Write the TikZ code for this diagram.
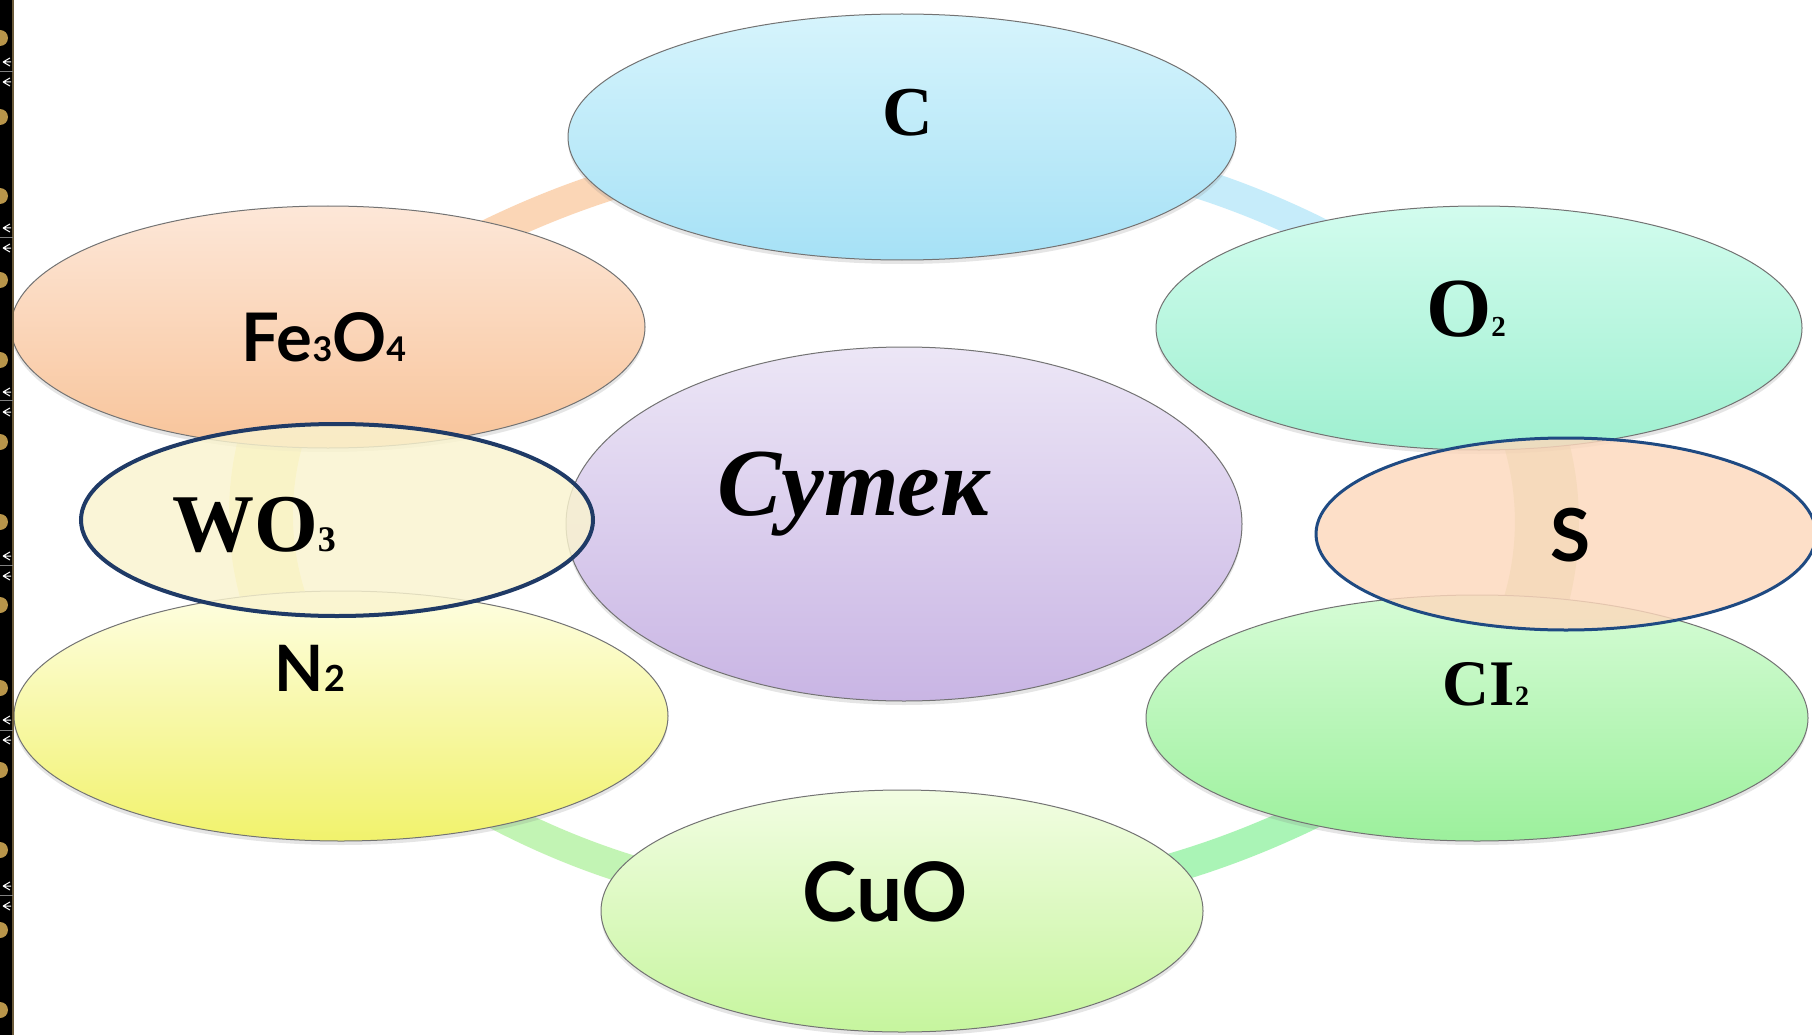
\documentclass[tikz,border=0pt]{standalone}
\usepackage{fontspec}
\setmainfont{Liberation Serif}
\newfontfamily\labsans{Lato}
\usetikzlibrary{shapes.geometric,shadows}
\pgfdeclarelayer{bg}
\pgfsetlayers{bg,main}
\newcommand{\fsz}[1]{\fontsize{#1}{#1}\selectfont}

\definecolor{coin}{HTML}{B8954A}
\definecolor{cTop}{HTML}{D6F4FC}   \definecolor{cBot}{HTML}{A6E1F6}
\definecolor{oTop}{HTML}{D2FCEE}   \definecolor{oBot}{HTML}{9FF0D0}
\definecolor{feTop}{HTML}{FDE7D8}  \definecolor{feBot}{HTML}{F8C49A}
\definecolor{nTop}{HTML}{FEFEE2}   \definecolor{nBot}{HTML}{F1F26C}
\definecolor{clTop}{HTML}{D6FCD6}  \definecolor{clBot}{HTML}{9CF09C}
\definecolor{cuTop}{HTML}{F2FDE2}  \definecolor{cuBot}{HTML}{C6F59E}
\definecolor{mTop}{HTML}{ECE6F6}   \definecolor{mBot}{HTML}{C9B5E4}
\definecolor{navyA}{HTML}{1F3A66}  \definecolor{navyB}{HTML}{1F4A82}
\definecolor{wFill}{HTML}{FAF4CF}  \definecolor{sFill}{HTML}{FDD8BC}
\definecolor{rFeC}{HTML}{FBD6B6}   \definecolor{rCO}{HTML}{C6ECFA}
\definecolor{rOCl}{HTML}{D8E6BC}   \definecolor{rClCu}{HTML}{AAF4B6}
\definecolor{rCuN}{HTML}{C2F4B4}   \definecolor{rNFe}{HTML}{F8F0A8}
\definecolor{edge}{HTML}{6B5A3A}

\begin{document}
\begin{tikzpicture}[x=1pt, y=-1pt,
    every node/.style={ellipse, draw=black!55, line width=1pt, inner sep=0pt},
    blob/.style 2 args={top color=#1, bottom color=#2,
      drop shadow={shadow xshift=0pt, shadow yshift=-4pt, opacity=0.2}},
    pick/.style={draw=#1, line width=4pt, fill opacity=0.82},
    lab/.style={draw=none, rectangle, inner sep=0pt, text=black},
    ring/.style={draw=#1, line width=30pt},
    wring/.style={draw=#1, line width=64pt}]
  \useasboundingbox (0,0) rectangle (1812,1035);

  % cycle
  \node[blob={cTop}{cBot}, minimum width=668, minimum height=246,
    label={[lab, xshift=6pt, yshift=24pt]center:{\bfseries\fsz{70}C}}] (c) at (902,137) {};
  \node[blob={oTop}{oBot}, minimum width=646, minimum height=244,
    label={[lab, xshift=-13pt, yshift=19pt]center:{\bfseries\fsz{84}O\fsz{29}2}}] (o2) at (1479,328) {};
  \node[blob={feTop}{feBot}, minimum width=634, minimum height=242,
    label={[lab, xshift=-4pt, yshift=-10pt]center:{\labsans\bfseries\fsz{67}Fe\fsz{34}3\fsz{67}O\fsz{34}4}}] (fe) at (328,327) {};
  \node[blob={nTop}{nBot}, minimum width=654, minimum height=250,
    label={[lab, xshift=-31pt, yshift=48pt]center:{\labsans\bfseries\fsz{64}N\fsz{36}2}}] (n2) at (341,716) {};
  \node[blob={clTop}{clBot}, minimum width=662, minimum height=246,
    label={[lab, xshift=9pt, yshift=34pt]center:{\bfseries\fsz{65}CI\fsz{28}2}}] (cl2) at (1477,718) {};
  \node[blob={cuTop}{cuBot}, minimum width=602, minimum height=242,
    label={[lab, xshift=-17pt, yshift=19pt]center:{\labsans\bfseries\fsz{82}CuO}}] (cuo) at (902,911) {};

  % middle
  \node[blob={mTop}{mBot}, minimum width=676, minimum height=354,
    label={[lab, xshift=-51pt, yshift=30pt]center:{\bfseries\itshape\fsz{96}Сутек}}] (cen) at (904,524) {};

  % picked ones
  \node[pick=navyA, fill=wFill, minimum width=512, minimum height=192,
    label={[lab, xshift=-83pt, yshift=-5pt]center:{\bfseries\fsz{82}WO\fsz{36}3}}] (wo3) at (337,520) {};
  \node[pick=navyB, line width=3pt, fill=sFill, minimum width=500, minimum height=192,
    label={[lab, xshift=4pt, yshift=-1pt]center:{\labsans\bfseries\fsz{73}S}}] (s) at (1566,534) {};

  \begin{pgfonlayer}{bg}
    \fill[white] (0,0) rectangle (1812,1035);
    \draw[ring=rFeC] (fe.center) to[bend left=15] (c.center);
    \draw[ring=rCO] (c.center) to[bend left=16] (o2.center);
    \draw[wring=rOCl] (o2.center) to[bend left=37] (cl2.center);
    \draw[ring=rClCu] (cl2.center) to[bend left=15] (cuo.center);
    \draw[ring=rCuN] (cuo.center) to[bend left=17] (n2.center);
    \draw[wring=rNFe] (n2.center) to[bend left=40] (fe.center);
  \end{pgfonlayer}

  % slide edge
  \fill[black] (0,0) rectangle (13,1035);
  \draw[edge, line width=1.5pt] (13,0) -- (13,1035);
  \foreach \y in {72,237,400,565,730,895}
    \draw[gray, line width=1pt] (0,\y) -- (13,\y);
  \foreach \y in {38,117,196,280,360,442,522,605,688,770,850,930,1010}
    \fill[coin] (0,\y) circle[radius=8];
  \foreach \y in {62,82,228,248,392,412,556,576,720,740,886,906}
    \draw[white, line width=1pt] (3,\y) -- (10,\y-4) (3,\y) -- (10,\y+4) (3,\y) -- (11,\y);
\end{tikzpicture}
\end{document}
